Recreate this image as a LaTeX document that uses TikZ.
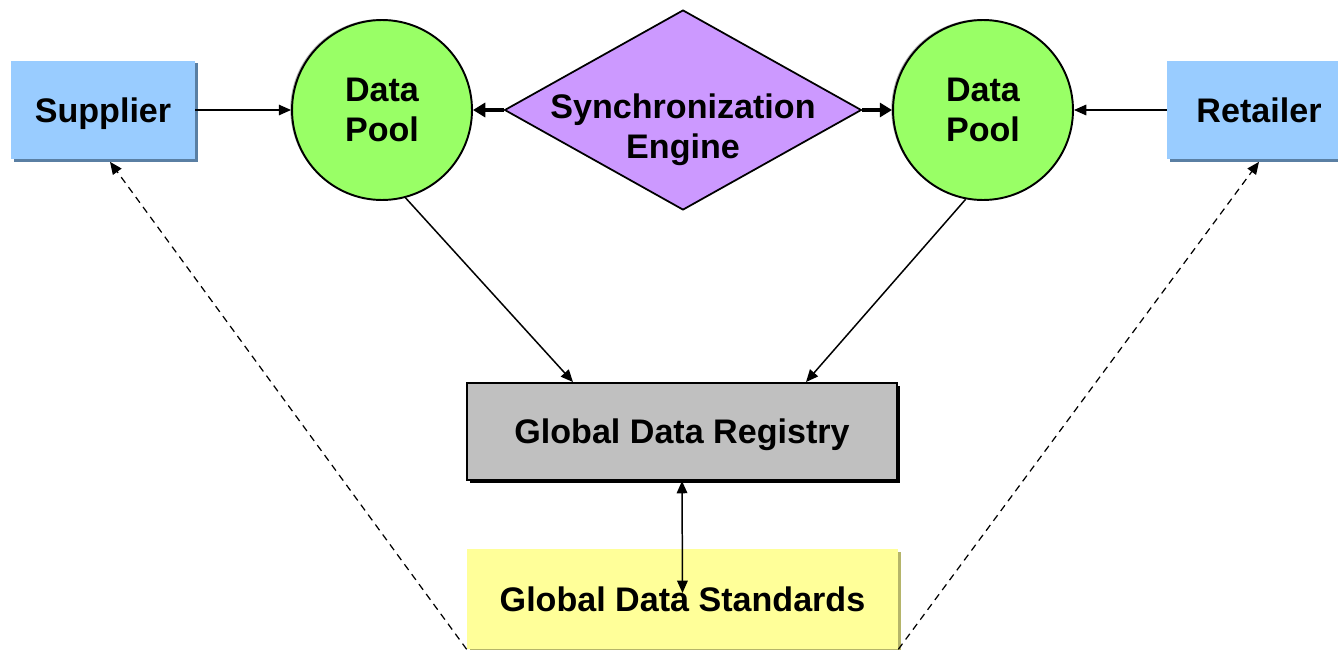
\documentclass[tikz,border=0pt]{standalone}
\usepackage{fontspec}
\setmainfont{Liberation Sans}
\usepackage{tikz}
\usetikzlibrary{arrows.meta, calc, shadows, shapes}
\definecolor{partyblue}{HTML}{99CCFF}
\definecolor{partyshade}{HTML}{5A7FA3}
\definecolor{poolgreen}{HTML}{99FF66}
\definecolor{enginepurple}{HTML}{CC99FF}
\definecolor{registrygray}{HTML}{C0C0C0}
\definecolor{stdyellow}{HTML}{FFFF99}
\definecolor{stdshade}{HTML}{B5B56A}
\tikzset{
    partybox/.style={fill=partyblue, minimum width=3.68cm, minimum height=1.98cm, text depth=0pt,
        drop shadow={shadow xshift=1.7pt, shadow yshift=-1.7pt, fill=partyshade, opacity=1}},
    poolnode/.style={circle, draw, line width=1.1pt, fill=poolgreen, minimum size=3.6cm,
        inner sep=0pt, align=center,
        drop shadow={shadow xshift=-1pt, shadow yshift=0.5pt, fill=gray, opacity=0.6}},
    flow/.style={line width=0.85pt, -{Triangle[length=7pt, width=6pt]}}
}

\begin{document}
\begin{tikzpicture}[x=0.02cm, y=-0.02cm, font=\bfseries\fontsize{19.4}{23}\selectfont]
\tikzset{
    enginenode/.style={diamond, draw, line width=1pt, fill=enginepurple, inner sep=0pt,
        minimum width=7.14cm, minimum height=4cm},
    registrybox/.style={draw, line width=1.1pt, fill=registrygray, minimum width=8.6cm,
        minimum height=1.94cm, text depth=0pt,
        drop shadow={shadow xshift=1.7pt, shadow yshift=-1.7pt, fill=black, opacity=1}},
    stdbox/.style={fill=stdyellow, minimum width=8.62cm, minimum height=2cm,
        drop shadow={shadow xshift=1.7pt, shadow yshift=-1.7pt, fill=stdshade, opacity=1}},
    syncflow/.style={line width=2.2pt, -{Triangle[length=7pt, width=8pt]}},
    linkflow/.style={line width=0.7pt, dashed, dash pattern=on 4pt off 3pt, -{Triangle[length=7pt, width=6pt]}}
}
  \useasboundingbox (0,0) rectangle (1338,649);
  \node[partybox] (sup) at (103,110) {Supplier};
  \node[partybox] (ret) at (1259,110) {Retailer};
  \node[poolnode] (dpL) at (382,110) {Data\\Pool};
  \node[poolnode] (dpR) at (983,110) {Data\\Pool};
  \node[enginenode, label={[align=center, anchor=center, yshift=-0.4cm]center:Synchronization\\Engine}] (eng) at (683,110) {};
  \node[registrybox] (reg) at (682,431.5) {Global Data Registry};
  \node[stdbox] (std) at (682.5,599) {Global Data Standards};
  \draw[flow] (sup.east) -- (dpL.west);
  \draw[flow] (ret.west) -- (dpR.east);
  \draw[syncflow] (eng.west) -- (dpL.east);
  \draw[syncflow] (eng.east) -- (dpR.west);
  \draw[flow] (dpL.-75) -- ([shift={(-109,0)}]reg.north);
  \draw[flow] (dpR.-101) -- ([shift={(124,0)}]reg.north);
  \draw[flow, {Triangle[length=7pt, width=6pt]}-{Triangle[length=7pt, width=6pt]}] (reg.south) -- ([shift={(0,-6)}]std.center);
  \draw[linkflow] (std.south west) -- ([shift={(7,2)}]sup.south);
  \draw[linkflow] (std.south east) -- ([shift={(0,2)}]ret.south);
\end{tikzpicture}
\end{document}
